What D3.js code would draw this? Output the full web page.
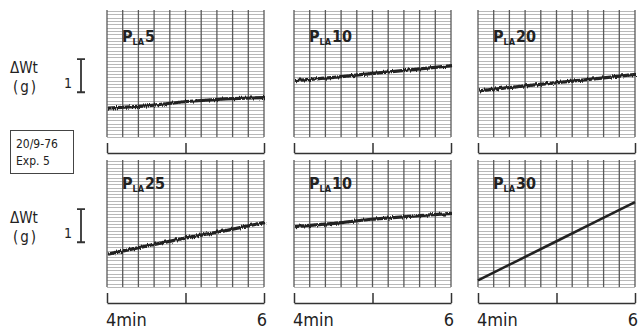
<!DOCTYPE html>
<html>
<head>
<meta charset="utf-8">
<script src="https://cdn.jsdelivr.net/npm/d3@7"></script>
<style>
  body { margin: 0; background: #fff; }
  svg { display: block; }
  text { font-family: "DejaVu Sans Condensed", "Liberation Sans Narrow", "DejaVu Sans", sans-serif; fill: #222; }
</style>
</head>
<body>
<div id="chart"></div>
<script>
// time (min) at which each trace value was read
var times = [4.0, 4.5, 5.0, 5.5, 6.0];

// weight change (g) above the bottom of each recorder panel
var pla5   = [0.90, 0.97, 1.10, 1.18, 1.22];
var pla10a = [1.73, 1.83, 1.95, 2.06, 2.18];
var pla20  = [1.42, 1.55, 1.67, 1.79, 1.92];
var pla25  = [1.02, 1.27, 1.51, 1.73, 1.98];
var pla10b = [1.85, 1.95, 2.08, 2.17, 2.25];
var pla30  = [0.20, 0.79, 1.38, 1.97, 2.56];

var panelLabels = ["5", "10", "20", "25", "10", "30"];
var panelSeries = [pla5, pla10a, pla20, pla25, pla10b, pla30];
var timeTicks = [4, 5, 6];
var timeLabels = ["4min", "6"];
var scaleBar = [1.35, 2.35];   // the 1 g bar, in g
var expLines = ["20/9-76", "Exp. 5"];

var W = 641, H = 329;
var svg = d3.select("#chart").append("svg")
  .attr("width", W).attr("height", H);

// jagged recorder pen
var defs = svg.append("defs");
var filt = defs.append("filter").attr("id", "pen")
  .attr("x", "-5%").attr("y", "-50%").attr("width", "110%").attr("height", "200%");
filt.append("feTurbulence").attr("type", "turbulence")
  .attr("baseFrequency", "0.55 0.02").attr("numOctaves", 1).attr("seed", 3).attr("result", "t");
filt.append("feDisplacementMap").attr("in", "SourceGraphic").attr("in2", "t")
  .attr("scale", 3).attr("xChannelSelector", "G").attr("yChannelSelector", "R");

var colX = [107, 294, 478];
var rowY = [11, 161];
var pw = 157, ph = 126;

var x = d3.scaleLinear().domain([4, 6]).range([0, pw]);
var y = d3.scaleLinear().domain([0, 3.8]).range([ph, 0]);

var line = d3.line()
  .x(function(d) { return x(d.t); })
  .y(function(d) { return y(d.v); });

panelSeries.forEach(function(series, i) {
  var r = Math.floor(i / 3), c = i % 3;
  var g = svg.append("g")
    .attr("transform", "translate(" + colX[c] + "," + rowY[r] + ")");

  // horizontal rulings, every 0.1 g
  g.append("g").selectAll("line")
    .data(d3.range(0, 3.81, 0.1))
    .join("line")
    .attr("x1", 0).attr("x2", pw)
    .attr("y1", function(d) { return Math.round(y(d)) + 0.5; })
    .attr("y2", function(d) { return Math.round(y(d)) + 0.5; })
    .attr("stroke", "#b0b0b0").attr("stroke-width", 0.9);

  // vertical rulings, every 0.2 min
  g.append("g").selectAll("line")
    .data(d3.range(4, 6.001, 0.2))
    .join("line")
    .attr("x1", function(d) { return x(d); })
    .attr("x2", function(d) { return x(d); })
    .attr("y1", -1).attr("y2", ph)
    .attr("stroke", "#5a5a5a").attr("stroke-width", 1.3);

  // trace
  g.append("path")
    .datum(series.map(function(v, k) { return { t: times[k], v: v }; }))
    .attr("fill", "none")
    .attr("stroke", "#222")
    .attr("stroke-width", i === 5 ? 2.6 : 3.2)
    .attr("stroke-linejoin", "round")
    .attr("d", line)
    .attr("filter", i === 5 ? null : "url(#pen)");

  // P_LA label
  var lab = g.append("text")
    .attr("x", 15).attr("y", r === 0 ? 31 : 28)
    .style("font-weight", "bold").style("font-size", "16px");
  lab.append("tspan").text("P");
  lab.append("tspan").attr("dy", 3).style("font-size", "9px").text("LA");
  lab.append("tspan").attr("dy", -3).attr("dx", 1).text(panelLabels[i]);

  // time bracket
  var ax = g.append("g")
    .attr("transform", "translate(0," + (ph + 16) + ")")
    .call(d3.axisTop(x).tickValues(timeTicks).tickSize(10).tickSizeOuter(0).tickFormat(""));
  ax.select(".domain").attr("stroke", "#333").attr("stroke-width", 1.5);
  ax.selectAll(".tick line").attr("stroke", "#333").attr("stroke-width", 1.5);

  if (r === 1) {
    g.append("text")
      .attr("x", x(timeTicks[0]) - 1).attr("y", ph + 39)
      .style("font-size", "18px").text(timeLabels[0]);
    g.append("text")
      .attr("x", x(timeTicks[2]) + 3).attr("y", ph + 39)
      .attr("text-anchor", "end")
      .style("font-size", "18px").text(timeLabels[1]);
  }
});

// left side: ΔWt (g) with 1 g scale bar
rowY.forEach(function(top) {
  var g = svg.append("g").attr("transform", "translate(0," + top + ")");
  var yTop = y(scaleBar[1]), yBot = y(scaleBar[0]);
  g.append("text").attr("x", 10).attr("y", yTop + 14)
    .style("font-size", "15px").text("ΔWt");
  g.append("text").attr("x", 13).attr("y", yTop + 33)
    .style("font-size", "15px").style("letter-spacing", "2px").text("(g)");
  g.append("text").attr("x", 68).attr("y", yTop + 29)
    .attr("text-anchor", "middle")
    .style("font-size", "14px").text("1");
  g.append("path")
    .attr("d", "M77," + yTop + "H85M81," + yTop + "V" + yBot + "M77," + yBot + "H85")
    .attr("fill", "none").attr("stroke", "#333").attr("stroke-width", 1.8);
});

// experiment box
var box = svg.append("g").attr("transform", "translate(10,130)");
box.append("rect").attr("x", 0.5).attr("y", 0.5).attr("width", 63).attr("height", 43)
  .attr("fill", "none").attr("stroke", "#444").attr("stroke-width", 1);
box.selectAll("text").data(expLines).join("text")
  .attr("x", 6).attr("y", function(d, k) { return 18 + k * 17; })
  .style("font-size", "12px").text(function(d) { return d; });
</script>
</body>
</html>
